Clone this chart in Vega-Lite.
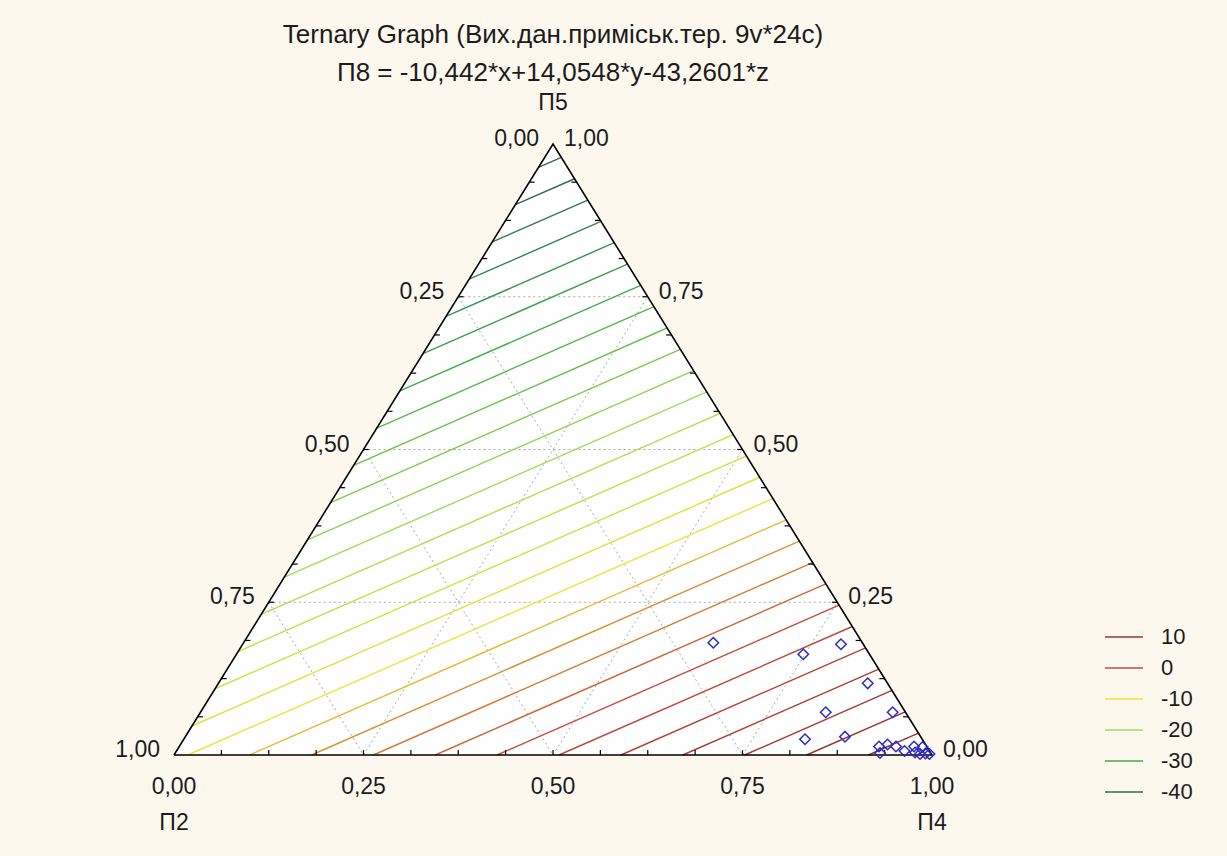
{
  "$schema": "https://vega.github.io/schema/vega-lite/v6.json",
  "width": 758,
  "height": 611,
  "autosize": {"type": "none"},
  "padding": {"left": 174, "top": 144, "right": 295, "bottom": 101},
  "background": "#fdf8ee",
  "config": {"view": {"stroke": null}, "font": "Liberation Sans"},
  "title": {
    "text": ["Ternary Graph (Вих.дан.приміськ.тер. 9v*24c)", "П8 = -10,442*x+14,0548*y-43,2601*z"],
    "font": "Liberation Sans",
    "fontSize": 26,
    "fontWeight": "normal",
    "color": "#1c1c1c",
    "lineHeight": 38,
    "anchor": "middle",
    "frame": "group",
    "offset": 6
  },
  "datasets": {
    "tri": [{"x": 0, "y": 0, "o": 0}, {"x": 0.5, "y": 1, "o": 1}, {"x": 1, "y": 0, "o": 2}, {"x": 0, "y": 0, "o": 3}],
    "grid": [
      {"x": 0.125, "y": 0.25, "x2": 0.875, "y2": 0.25},
      {"x": 0.25, "y": 0.5, "x2": 0.75, "y2": 0.5},
      {"x": 0.375, "y": 0.75, "x2": 0.625, "y2": 0.75},
      {"x": 0.375, "y": 0.75, "x2": 0.75, "y2": 0},
      {"x": 0.25, "y": 0.5, "x2": 0.5, "y2": 0},
      {"x": 0.125, "y": 0.25, "x2": 0.25, "y2": 0},
      {"x": 0.25, "y": 0, "x2": 0.625, "y2": 0.75},
      {"x": 0.5, "y": 0, "x2": 0.75, "y2": 0.5},
      {"x": 0.75, "y": 0, "x2": 0.875, "y2": 0.25}
    ],
    "contours": [
      {"level": -42, "x": 0.4808, "y": 0.9616, "x2": 0.51099, "y2": 0.97801},
      {"level": -40, "x": 0.45033, "y": 0.90066, "x2": 0.52844, "y2": 0.94312},
      {"level": -38, "x": 0.41986, "y": 0.83972, "x2": 0.54589, "y2": 0.90822},
      {"level": -36, "x": 0.38939, "y": 0.77878, "x2": 0.56334, "y2": 0.87333},
      {"level": -34, "x": 0.35892, "y": 0.71784, "x2": 0.58078, "y2": 0.83844},
      {"level": -32, "x": 0.32845, "y": 0.65689, "x2": 0.59823, "y2": 0.80354},
      {"level": -30, "x": 0.29798, "y": 0.59595, "x2": 0.61568, "y2": 0.76865},
      {"level": -28, "x": 0.26751, "y": 0.53501, "x2": 0.63312, "y2": 0.73375},
      {"level": -26, "x": 0.23704, "y": 0.47407, "x2": 0.65057, "y2": 0.69886},
      {"level": -24, "x": 0.20656, "y": 0.41313, "x2": 0.66802, "y2": 0.66396},
      {"level": -22, "x": 0.17609, "y": 0.35218, "x2": 0.68547, "y2": 0.62907},
      {"level": -20, "x": 0.14562, "y": 0.29124, "x2": 0.70291, "y2": 0.59417},
      {"level": -18, "x": 0.11515, "y": 0.2303, "x2": 0.72036, "y2": 0.55928},
      {"level": -16, "x": 0.08468, "y": 0.16936, "x2": 0.73781, "y2": 0.52438},
      {"level": -14, "x": 0.05421, "y": 0.10842, "x2": 0.75526, "y2": 0.48949},
      {"level": -12, "x": 0.02374, "y": 0.04747, "x2": 0.7727, "y2": 0.45459},
      {"level": -10, "x": 0.01804, "y": 0, "x2": 0.79015, "y2": 0.4197},
      {"level": -8, "x": 0.09969, "y": 0, "x2": 0.8076, "y2": 0.3848},
      {"level": -6, "x": 0.18133, "y": 0, "x2": 0.82505, "y2": 0.34991},
      {"level": -4, "x": 0.26298, "y": 0, "x2": 0.84249, "y2": 0.31501},
      {"level": -2, "x": 0.34462, "y": 0, "x2": 0.85994, "y2": 0.28012},
      {"level": 0, "x": 0.42626, "y": 0, "x2": 0.87739, "y2": 0.24522},
      {"level": 2, "x": 0.50791, "y": 0, "x2": 0.89484, "y2": 0.21033},
      {"level": 4, "x": 0.58955, "y": 0, "x2": 0.91228, "y2": 0.17543},
      {"level": 6, "x": 0.6712, "y": 0, "x2": 0.92973, "y2": 0.14054},
      {"level": 8, "x": 0.75284, "y": 0, "x2": 0.94718, "y2": 0.10564},
      {"level": 10, "x": 0.83449, "y": 0, "x2": 0.96463, "y2": 0.07075},
      {"level": 12, "x": 0.91613, "y": 0, "x2": 0.98207, "y2": 0.03585},
      {"level": 14, "x": 0.99777, "y": 0, "x2": 0.99952, "y2": 0.00096}
    ],
    "ticks": [
      {"x": 0.0625, "y": 0, "x2": 0.0625, "y2": 0.008},
      {"x": 0.125, "y": 0, "x2": 0.125, "y2": 0.008},
      {"x": 0.1875, "y": 0, "x2": 0.1875, "y2": 0.008},
      {"x": 0.25, "y": 0, "x2": 0.25, "y2": 0.008},
      {"x": 0.3125, "y": 0, "x2": 0.3125, "y2": 0.008},
      {"x": 0.375, "y": 0, "x2": 0.375, "y2": 0.008},
      {"x": 0.4375, "y": 0, "x2": 0.4375, "y2": 0.008},
      {"x": 0.5, "y": 0, "x2": 0.5, "y2": 0.008},
      {"x": 0.5625, "y": 0, "x2": 0.5625, "y2": 0.008},
      {"x": 0.625, "y": 0, "x2": 0.625, "y2": 0.008},
      {"x": 0.6875, "y": 0, "x2": 0.6875, "y2": 0.008},
      {"x": 0.75, "y": 0, "x2": 0.75, "y2": 0.008},
      {"x": 0.8125, "y": 0, "x2": 0.8125, "y2": 0.008},
      {"x": 0.875, "y": 0, "x2": 0.875, "y2": 0.008},
      {"x": 0.9375, "y": 0, "x2": 0.9375, "y2": 0.008},
      {"x": 0.03125, "y": 0.0625, "x2": 0.03825, "y2": 0.0625},
      {"x": 0.0625, "y": 0.125, "x2": 0.0695, "y2": 0.125},
      {"x": 0.09375, "y": 0.1875, "x2": 0.10075, "y2": 0.1875},
      {"x": 0.125, "y": 0.25, "x2": 0.132, "y2": 0.25},
      {"x": 0.15625, "y": 0.3125, "x2": 0.16325, "y2": 0.3125},
      {"x": 0.1875, "y": 0.375, "x2": 0.1945, "y2": 0.375},
      {"x": 0.21875, "y": 0.4375, "x2": 0.22575, "y2": 0.4375},
      {"x": 0.25, "y": 0.5, "x2": 0.257, "y2": 0.5},
      {"x": 0.28125, "y": 0.5625, "x2": 0.28825, "y2": 0.5625},
      {"x": 0.3125, "y": 0.625, "x2": 0.3195, "y2": 0.625},
      {"x": 0.34375, "y": 0.6875, "x2": 0.35075, "y2": 0.6875},
      {"x": 0.375, "y": 0.75, "x2": 0.382, "y2": 0.75},
      {"x": 0.40625, "y": 0.8125, "x2": 0.41325, "y2": 0.8125},
      {"x": 0.4375, "y": 0.875, "x2": 0.4445, "y2": 0.875},
      {"x": 0.46875, "y": 0.9375, "x2": 0.47575, "y2": 0.9375},
      {"x": 0.96875, "y": 0.0625, "x2": 0.96175, "y2": 0.0625},
      {"x": 0.9375, "y": 0.125, "x2": 0.9305, "y2": 0.125},
      {"x": 0.90625, "y": 0.1875, "x2": 0.89925, "y2": 0.1875},
      {"x": 0.875, "y": 0.25, "x2": 0.868, "y2": 0.25},
      {"x": 0.84375, "y": 0.3125, "x2": 0.83675, "y2": 0.3125},
      {"x": 0.8125, "y": 0.375, "x2": 0.8055, "y2": 0.375},
      {"x": 0.78125, "y": 0.4375, "x2": 0.77425, "y2": 0.4375},
      {"x": 0.75, "y": 0.5, "x2": 0.743, "y2": 0.5},
      {"x": 0.71875, "y": 0.5625, "x2": 0.71175, "y2": 0.5625},
      {"x": 0.6875, "y": 0.625, "x2": 0.6805, "y2": 0.625},
      {"x": 0.65625, "y": 0.6875, "x2": 0.64925, "y2": 0.6875},
      {"x": 0.625, "y": 0.75, "x2": 0.618, "y2": 0.75},
      {"x": 0.59375, "y": 0.8125, "x2": 0.58675, "y2": 0.8125},
      {"x": 0.5625, "y": 0.875, "x2": 0.5555, "y2": 0.875},
      {"x": 0.53125, "y": 0.9375, "x2": 0.52425, "y2": 0.9375}
    ],
    "points": [
      {"x": 0.7115, "y": 0.1838},
      {"x": 0.8302, "y": 0.1648},
      {"x": 0.8799, "y": 0.1812},
      {"x": 0.9152, "y": 0.1173},
      {"x": 0.8598, "y": 0.0699},
      {"x": 0.9481, "y": 0.0699},
      {"x": 0.8325, "y": 0.0257},
      {"x": 0.8852, "y": 0.03},
      {"x": 0.9301, "y": 0.0139},
      {"x": 0.9413, "y": 0.0172},
      {"x": 0.9525, "y": 0.0139},
      {"x": 0.9314, "y": 0.0033},
      {"x": 0.9637, "y": 0.0065},
      {"x": 0.9763, "y": 0.0139},
      {"x": 0.9776, "y": 0.0041},
      {"x": 0.9875, "y": 0.0131},
      {"x": 0.9842, "y": 0.0016},
      {"x": 0.9914, "y": 0.0025},
      {"x": 0.9967, "y": 0.0016}
    ],
    "leftLabels": [
      {"lab": "0,00", "x": 0.5, "y": 1},
      {"lab": "0,25", "x": 0.375, "y": 0.75},
      {"lab": "0,50", "x": 0.25, "y": 0.5},
      {"lab": "0,75", "x": 0.125, "y": 0.25},
      {"lab": "1,00", "x": 0, "y": 0}
    ],
    "rightLabels": [
      {"lab": "1,00", "x": 0.5, "y": 1},
      {"lab": "0,75", "x": 0.625, "y": 0.75},
      {"lab": "0,50", "x": 0.75, "y": 0.5},
      {"lab": "0,25", "x": 0.875, "y": 0.25},
      {"lab": "0,00", "x": 1, "y": 0}
    ],
    "bottomLabels": [
      {"lab": "0,00", "x": 0, "y": 0},
      {"lab": "0,25", "x": 0.25, "y": 0},
      {"lab": "0,50", "x": 0.5, "y": 0},
      {"lab": "0,75", "x": 0.75, "y": 0},
      {"lab": "1,00", "x": 1, "y": 0}
    ],
    "bottomNames": [
      {"lab": "П2", "x": 0, "y": 0},
      {"lab": "П4", "x": 1, "y": 0}
    ],
    "topName": [
      {"lab": "П5", "x": 0.5, "y": 1}
    ]
  },
  "layer": [
    {
      "data": {"name": "tri"},
      "mark": {"type": "area", "fill": "#ffffff", "stroke": null},
      "encoding": {
        "x": {"field": "x", "type": "quantitative", "scale": {"domain": [0, 1], "nice": false, "zero": false}, "axis": null},
        "y": {"field": "y", "type": "quantitative", "scale": {"domain": [0, 1], "nice": false, "zero": false}, "axis": null},
        "y2": {"datum": 0}
      }
    },
    {
      "data": {"name": "grid"},
      "mark": {"type": "rule", "stroke": "#a8a8a8", "strokeWidth": 1, "strokeDash": [2, 3]},
      "encoding": {
        "x": {"field": "x", "type": "quantitative", "axis": null},
        "y": {"field": "y", "type": "quantitative", "axis": null},
        "x2": {"field": "x2"},
        "y2": {"field": "y2"}
      }
    },
    {
      "data": {"name": "contours"},
      "mark": {"type": "rule", "strokeWidth": 1.4},
      "encoding": {
        "x": {"field": "x", "type": "quantitative", "axis": null},
        "y": {"field": "y", "type": "quantitative", "axis": null},
        "x2": {"field": "x2"},
        "y2": {"field": "y2"},
        "color": {
          "field": "level",
          "type": "quantitative",
          "scale": {
            "domain": [-40, -30, -20, -10, -6, 0, 10],
            "range": ["#2f6e4c", "#42ad4a", "#a2dc58", "#ece43c", "#d8923c", "#c24e3a", "#9e3430"],
            "clamp": true
          },
          "legend": {
            "type": "symbol",
            "values": [10, 0, -10, -20, -30, -40],
            "title": null,
            "orient": "none",
            "legendX": 930,
            "legendY": 473,
            "symbolType": "stroke",
            "symbolSize": 1444,
            "symbolStrokeWidth": 1.6,
            "labelFont": "Liberation Sans",
            "labelFontSize": 22,
            "labelColor": "#1c1c1c",
            "labelOffset": 17,
            "labelExpr": "'' + datum.value",
            "rowPadding": 0
          }
        }
      }
    },
    {
      "data": {"name": "tri"},
      "mark": {"type": "line", "stroke": "#000000", "strokeWidth": 1.6},
      "encoding": {
        "x": {"field": "x", "type": "quantitative", "axis": null},
        "y": {"field": "y", "type": "quantitative", "axis": null},
        "order": {"field": "o", "type": "quantitative"}
      }
    },
    {
      "data": {"name": "ticks"},
      "mark": {"type": "rule", "stroke": "#000000", "strokeWidth": 1.2},
      "encoding": {
        "x": {"field": "x", "type": "quantitative", "axis": null},
        "y": {"field": "y", "type": "quantitative", "axis": null},
        "x2": {"field": "x2"},
        "y2": {"field": "y2"}
      }
    },
    {
      "data": {"name": "points"},
      "mark": {"type": "point", "shape": "diamond", "filled": false, "size": 110, "stroke": "#2b2bbf", "strokeWidth": 1.5, "opacity": 1},
      "encoding": {
        "x": {"field": "x", "type": "quantitative", "axis": null},
        "y": {"field": "y", "type": "quantitative", "axis": null}
      }
    },
    {
      "data": {"name": "leftLabels"},
      "mark": {"type": "text", "align": "right", "baseline": "alphabetic", "dx": -14, "dy": 2, "fontSize": 23, "font": "Liberation Sans", "color": "#1c1c1c"},
      "encoding": {
        "x": {"field": "x", "type": "quantitative", "axis": null},
        "y": {"field": "y", "type": "quantitative", "axis": null},
        "text": {"field": "lab"}
      }
    },
    {
      "data": {"name": "rightLabels"},
      "mark": {"type": "text", "align": "left", "baseline": "alphabetic", "dx": 11, "dy": 2, "fontSize": 23, "font": "Liberation Sans", "color": "#1c1c1c"},
      "encoding": {
        "x": {"field": "x", "type": "quantitative", "axis": null},
        "y": {"field": "y", "type": "quantitative", "axis": null},
        "text": {"field": "lab"}
      }
    },
    {
      "data": {"name": "bottomLabels"},
      "mark": {"type": "text", "align": "center", "baseline": "alphabetic", "dy": 39, "fontSize": 23, "font": "Liberation Sans", "color": "#1c1c1c"},
      "encoding": {
        "x": {"field": "x", "type": "quantitative", "axis": null},
        "y": {"field": "y", "type": "quantitative", "axis": null},
        "text": {"field": "lab"}
      }
    },
    {
      "data": {"name": "bottomNames"},
      "mark": {"type": "text", "align": "center", "baseline": "alphabetic", "dy": 75, "fontSize": 23, "font": "Liberation Sans", "color": "#1c1c1c"},
      "encoding": {
        "x": {"field": "x", "type": "quantitative", "axis": null},
        "y": {"field": "y", "type": "quantitative", "axis": null},
        "text": {"field": "lab"}
      }
    },
    {
      "data": {"name": "topName"},
      "mark": {"type": "text", "align": "center", "baseline": "alphabetic", "dy": -34, "fontSize": 23, "font": "Liberation Sans", "color": "#1c1c1c"},
      "encoding": {
        "x": {"field": "x", "type": "quantitative", "axis": null},
        "y": {"field": "y", "type": "quantitative", "axis": null},
        "text": {"field": "lab"}
      }
    }
  ]
}
